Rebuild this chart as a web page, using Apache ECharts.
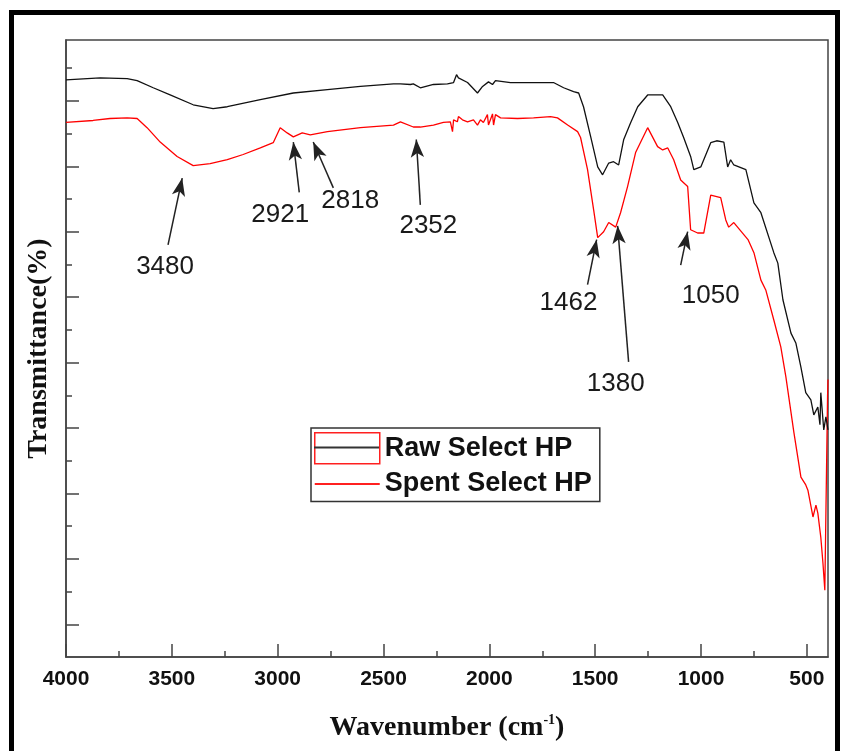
<!DOCTYPE html>
<html>
<head>
<meta charset="utf-8">
<script src="https://cdn.jsdelivr.net/npm/echarts@6/dist/echarts.min.js"></script>
<style>
html,body{margin:0;padding:0;background:#fff;}
#chart{width:842px;height:751px;}
</style>
</head>
<body>
<div id="chart"></div>
<script>
// ---------- data ----------
const seriesNames = ['Raw Select HP', 'Spent Select HP'];

const rawWn = [4000,3839,3711,3664,3588,3508,3399,3305,3238,3082,2926,2765,2609,2453,2420,2373,2359,2326,2264,2198,2169,2155,2146,2103,2056,2032,2004,1985,1971,1900,1791,1697,1649,1602,1578,1555,1521,1488,1465,1436,1413,1389,1365,1332,1299,1252,1181,1143,1110,1082,1049,1034,1001,954,926,892,874,860,845,788,750,717,656,637,613,575,552,528,505,481,467,448,438,434,420,410,400];
const rawT = [88.2,88.5,88.4,88.1,87.0,85.9,84.4,83.8,84.1,85.2,86.2,86.7,87.2,87.6,87.6,87.5,87.6,87.0,87.5,87.6,87.8,89.0,88.5,87.8,86.2,87.2,87.9,87.5,88.1,87.8,87.8,87.8,87.0,86.4,86.2,84.1,79.5,74.9,73.7,75.5,75.7,75.2,79.1,81.7,84.1,85.9,85.9,84.1,81.7,79.4,76.5,74.5,74.9,78.6,78.9,78.7,74.9,76.0,75.2,74.5,69.4,67.9,61.8,60.2,54.6,49.5,48.0,44.3,40.4,39.3,37.0,38.2,35.5,40.4,34.7,36.7,34.7];

const spentWn = [4000,3872,3792,3711,3664,3617,3555,3475,3399,3319,3238,3163,3082,3021,2988,2955,2926,2884,2846,2765,2609,2453,2420,2359,2326,2264,2217,2184,2174,2169,2151,2146,2127,2103,2075,2056,2042,2028,2009,2004,1985,1980,1971,1947,1867,1791,1711,1678,1630,1583,1569,1536,1507,1488,1460,1436,1403,1380,1347,1309,1252,1205,1181,1157,1129,1096,1063,1049,1016,987,954,907,883,869,845,778,750,717,694,656,623,599,561,528,505,495,471,457,448,434,424,415,410,402,400];
const spentT = [81.7,82.0,82.3,82.4,82.3,80.9,78.7,76.5,75.1,75.4,76.0,76.8,77.8,78.6,80.9,80.1,79.5,80.1,79.8,80.3,80.9,81.3,81.8,81.0,81.0,81.3,81.7,81.8,80.3,82.1,81.8,82.6,82.1,81.8,82.1,81.3,82.1,81.7,82.9,81.3,83.0,81.3,82.9,82.4,82.3,82.4,82.6,82.4,81.3,80.3,79.4,74.5,68.3,64.1,65.0,66.4,65.7,67.9,71.9,77.1,80.9,78.0,77.5,77.8,76.0,72.9,71.9,65.3,64.8,64.8,70.6,70.2,66.8,65.7,66.4,63.8,61.8,57.6,56.1,51.5,47.4,42.8,34.3,27.5,26.3,25.5,21.4,23.2,22.0,18.3,14.4,10.2,10.5,40.0,42.4];

// tick values
const xMajorTicks = [500,1000,1500,2000,2500,3000,3500,4000];
const xMinorTicks = [750,1250,1750,2250,2750,3250,3750];
const yMajorTicks = [5,15,25,35,45,55,65,75,85];
const yMinorTicks = [10,20,30,40,50,60,70,80,90];

// peak annotations: label, label anchor, arrow tail, arrow head (data coords)
const peakLabels = ['3480','2921','2818','2352','1462','1380','1050'];
const peakLabelAt = [[3532,59.6],[2988,67.6],[2657,69.7],[2288,65.9],[1626,54.1],[1403,41.7],[954,55.2]];
const peakTail = [[3518,63.0],[2898,71.0],[2737,71.7],[2326,69.1],[1536,56.9],[1342,45.1],[1096,59.9]];
const peakHead = [[3451,73.2],[2926,78.7],[2832,78.7],[2345,79.1],[1493,63.8],[1394,65.9],[1063,65.0]];

// ---------- chart ----------
const zip = (a, b) => a.map((v, i) => [v, b[i]]);
const serif = "'Liberation Serif','Times New Roman',serif";
const sans = "'Liberation Sans',Arial,sans-serif";
const axisColor = '#444';

const chart = echarts.init(document.getElementById('chart'), null, {renderer: 'canvas'});

const legendIconLine = 'path://M0,0 M65,31 M0,14.6 H65 V16.4 H0 Z';

const option = {
  backgroundColor: '#fff',
  animation: false,
  grid: {left: 66, right: 14, top: 40, bottom: 94, show: true, borderColor: axisColor, borderWidth: 1.5, backgroundColor: 'transparent'},
  graphic: [{
    type: 'rect', z: 100, silent: true,
    shape: {x: 11.5, y: 12.5, width: 826, height: 800},
    style: {fill: 'none', stroke: '#000', lineWidth: 5}
  }],
  legend: [{
    orient: 'vertical', left: 311, top: 428,
    padding: [4, 8, 2, 3], itemGap: 4, itemWidth: 65, itemHeight: 31,
    selectedMode: false, symbolKeepAspect: false,
    backgroundColor: '#fff', borderColor: '#333', borderWidth: 1.5,
    textStyle: {fontFamily: sans, fontWeight: 'bold', fontSize: 27, color: '#111'},
    data: [
      {name: seriesNames[0], icon: 'rect', itemStyle: {color: 'rgba(0,0,0,0)', borderColor: '#ff2020', borderWidth: 1.5}},
      {name: seriesNames[1], icon: legendIconLine, itemStyle: {color: '#ff2020', borderWidth: 0}}
    ]
  }, {
    orient: 'vertical', left: 311, top: 428,
    padding: [4, 8, 2, 3], itemGap: 4, itemWidth: 65, itemHeight: 31,
    selectedMode: false, symbolKeepAspect: false, z: 20,
    formatter: () => '',
    textStyle: {fontFamily: sans, fontWeight: 'bold', fontSize: 27, color: '#111'},
    data: [{name: seriesNames[0], icon: legendIconLine, itemStyle: {color: '#333', borderWidth: 0}}]
  }],
  xAxis: [{
    type: 'value', inverse: true, min: 400, max: 4000, position: 'bottom',
    axisLine: {show: true, lineStyle: {color: axisColor, width: 1.5}},
    axisTick: {show: true, inside: true, length: 13, customValues: xMajorTicks, lineStyle: {color: axisColor, width: 1.5}},
    axisLabel: {show: true, customValues: xMajorTicks, showMinLabel: true, showMaxLabel: true, margin: 12,
      formatter: v => String(v),
      fontFamily: sans, fontWeight: 'bold', fontSize: 21, color: '#111'},
    splitLine: {show: false},
    name: '{a|Wavenumber (cm}{s|-1}{a|)}', nameLocation: 'middle', nameGap: 56,
    nameTextStyle: {rich: {
      a: {fontFamily: serif, fontWeight: 'bold', fontSize: 28, color: '#111', lineHeight: 30},
      s: {fontFamily: serif, fontWeight: 'bold', fontSize: 14, color: '#111', verticalAlign: 'top', lineHeight: 14}
    }}
  }, {
    type: 'value', inverse: true, min: 400, max: 4000, position: 'bottom',
    axisLine: {show: false},
    axisTick: {show: true, inside: true, length: 6, customValues: xMinorTicks, lineStyle: {color: axisColor, width: 1.5}},
    axisLabel: {show: false}, splitLine: {show: false}
  }],
  yAxis: [{
    type: 'value', min: 0, max: 94.3, position: 'left',
    axisLine: {show: true, lineStyle: {color: axisColor, width: 1.5}},
    axisTick: {show: true, inside: true, length: 13, customValues: yMajorTicks, lineStyle: {color: axisColor, width: 1.5}},
    axisLabel: {show: false}, splitLine: {show: false},
    name: 'Transmittance(%)', nameLocation: 'middle', nameGap: 13, nameRotate: 90,
    nameTextStyle: {fontFamily: serif, fontWeight: 'bold', fontSize: 28, color: '#111'}
  }, {
    type: 'value', min: 0, max: 94.3, position: 'left',
    axisLine: {show: false},
    axisTick: {show: true, inside: true, length: 6, customValues: yMinorTicks, lineStyle: {color: axisColor, width: 1.5}},
    axisLabel: {show: false}, splitLine: {show: false}
  }],
  series: [{
    name: seriesNames[0], type: 'line', xAxisIndex: 0, yAxisIndex: 0,
    symbol: 'none', smooth: false, z: 3,
    lineStyle: {color: '#111', width: 1.3},
    itemStyle: {color: '#111'},
    data: zip(rawWn, rawT)
  }, {
    name: seriesNames[1], type: 'line', xAxisIndex: 0, yAxisIndex: 0,
    symbol: 'none', smooth: false, z: 2,
    lineStyle: {color: '#ff0000', width: 1.3},
    itemStyle: {color: '#ff0000'},
    data: zip(spentWn, spentT),
    markLine: {
      silent: true, animation: false,
      symbol: ['none', 'arrow'], symbolSize: [10, 18],
      lineStyle: {color: '#222', width: 1.5, type: 'solid'},
      label: {show: false},
      emphasis: {disabled: true},
      data: peakLabels.map((l, i) => [{coord: peakTail[i]}, {coord: peakHead[i]}])
    },
    markPoint: {
      silent: true, animation: false,
      symbol: 'circle', symbolSize: 1,
      itemStyle: {color: 'rgba(0,0,0,0)'},
      label: {show: true, position: 'inside', formatter: p => p.name,
        fontFamily: sans, fontSize: 26, color: '#1a1a1a'},
      emphasis: {disabled: true},
      data: peakLabels.map((l, i) => ({name: l, coord: peakLabelAt[i]}))
    }
  }]
};
chart.setOption(option);
</script>
</body>
</html>
